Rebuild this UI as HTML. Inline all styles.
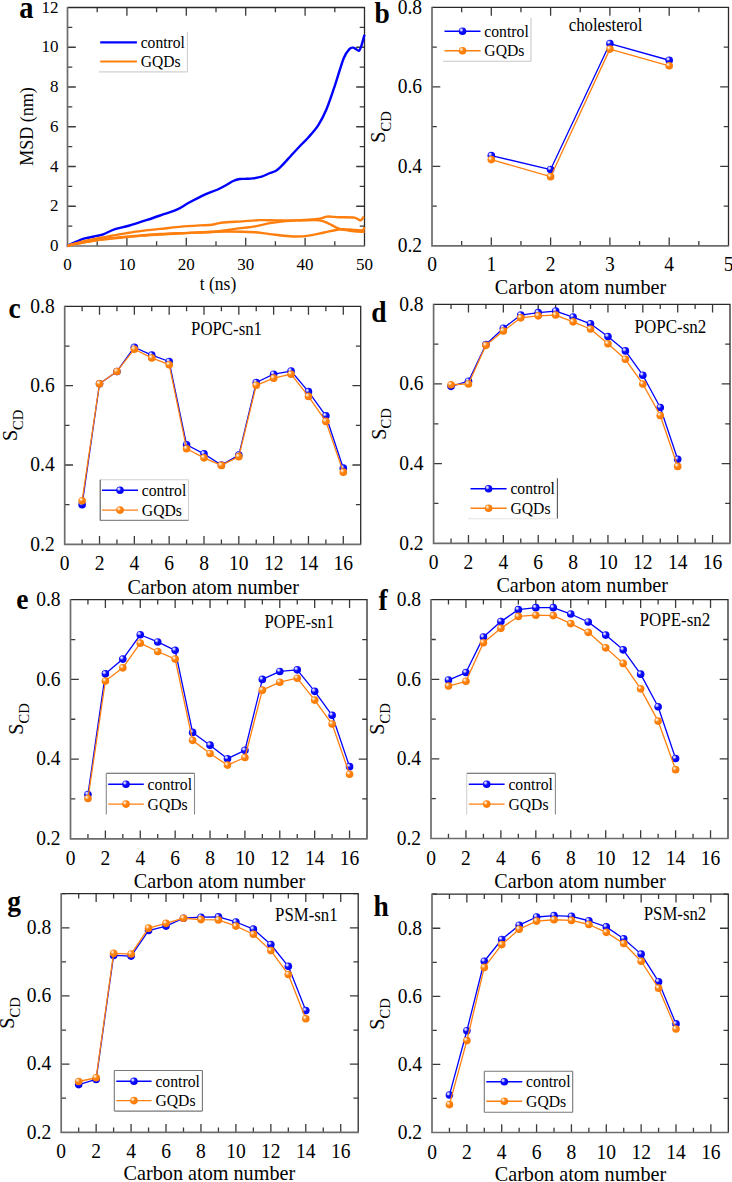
<!DOCTYPE html><html><head><meta charset="utf-8"><style>html,body{margin:0;padding:0;background:#fff;width:732px;height:1182px;overflow:hidden}svg{display:block}text{font-family:"Liberation Serif",serif;fill:#000}</style></head><body>
<svg width="732" height="1182" viewBox="0 0 732 1182">
<defs>
<radialGradient id="gb" cx="0.4" cy="0.38" r="0.62" fx="0.32" fy="0.3">
<stop offset="0" stop-color="#ffffff"/><stop offset="0.2" stop-color="#b8b8ff"/><stop offset="0.45" stop-color="#1010ff"/><stop offset="1" stop-color="#0000f0"/></radialGradient>
<radialGradient id="go" cx="0.4" cy="0.38" r="0.62" fx="0.32" fy="0.3">
<stop offset="0" stop-color="#ffffff"/><stop offset="0.2" stop-color="#ffd0a0"/><stop offset="0.45" stop-color="#ff8412"/><stop offset="1" stop-color="#f87800"/></radialGradient>
</defs>
<path d="M126.9 246v-8.3M126.9 7.5v8.3M186.3 246v-8.3M186.3 7.5v8.3M245.7 246v-8.3M245.7 7.5v8.3M305.1 246v-8.3M305.1 7.5v8.3M97.2 246v-4.8M97.2 7.5v4.8M156.6 246v-4.8M156.6 7.5v4.8M216 246v-4.8M216 7.5v4.8M275.4 246v-4.8M275.4 7.5v4.8M334.8 246v-4.8M334.8 7.5v4.8M67.5 206.25h8.3M364.5 206.25h-8.3M67.5 166.5h8.3M364.5 166.5h-8.3M67.5 126.75h8.3M364.5 126.75h-8.3M67.5 87h8.3M364.5 87h-8.3M67.5 47.25h8.3M364.5 47.25h-8.3M67.5 226.12h4.8M364.5 226.12h-4.8M67.5 186.38h4.8M364.5 186.38h-4.8M67.5 146.62h4.8M364.5 146.62h-4.8M67.5 106.88h4.8M364.5 106.88h-4.8M67.5 67.12h4.8M364.5 67.12h-4.8M67.5 27.38h4.8M364.5 27.38h-4.8" stroke="#3a3a3a" stroke-width="1.3" fill="none"/>
<path d="M67.5 7.5H364.5V246" stroke="#2a2a2a" stroke-width="1.3" fill="none"/>
<path d="M67.5 6.9V246H365.1" stroke="#6c6c6c" stroke-width="1.7" fill="none"/>
<text transform="translate(67.5,270) scale(1,1.0)" font-size="17" text-anchor="middle">0</text>
<text transform="translate(126.9,270) scale(1,1.0)" font-size="17" text-anchor="middle">10</text>
<text transform="translate(186.3,270) scale(1,1.0)" font-size="17" text-anchor="middle">20</text>
<text transform="translate(245.7,270) scale(1,1.0)" font-size="17" text-anchor="middle">30</text>
<text transform="translate(305.1,270) scale(1,1.0)" font-size="17" text-anchor="middle">40</text>
<text transform="translate(364.5,270) scale(1,1.0)" font-size="17" text-anchor="middle">50</text>
<text transform="translate(58.5,251.1) scale(1,1.0)" font-size="17" text-anchor="end">0</text>
<text transform="translate(58.5,211.35) scale(1,1.0)" font-size="17" text-anchor="end">2</text>
<text transform="translate(58.5,171.6) scale(1,1.0)" font-size="17" text-anchor="end">4</text>
<text transform="translate(58.5,131.85) scale(1,1.0)" font-size="17" text-anchor="end">6</text>
<text transform="translate(58.5,92.1) scale(1,1.0)" font-size="17" text-anchor="end">8</text>
<text transform="translate(58.5,52.35) scale(1,1.0)" font-size="17" text-anchor="end">10</text>
<text transform="translate(58.5,12.6) scale(1,1.0)" font-size="17" text-anchor="end">12</text>
<path d="M67.5 246C67.63 245.9 66.79 246.13 68.27 245.4C69.76 244.68 73.67 242.79 76.41 241.63C79.15 240.47 81.76 239.31 84.73 238.45C87.7 237.59 91.16 237.16 94.23 236.46C97.3 235.76 99.67 235.5 103.14 234.27C106.61 233.05 110.76 230.53 115.02 229.11C119.28 227.68 123.34 227.25 128.68 225.73C134.03 224.2 141.25 221.88 147.1 219.96C152.94 218.04 158.68 215.96 163.73 214.2C168.78 212.44 173.13 211.38 177.39 209.43C181.65 207.48 184.62 204.99 189.27 202.47C193.92 199.96 200.66 196.44 205.31 194.32C209.96 192.2 213.62 191.34 217.19 189.75C220.75 188.16 224.02 186.24 226.69 184.78C229.37 183.33 231.05 181.97 233.23 181.01C235.4 180.05 237.58 179.39 239.76 179.02C241.94 178.66 244.12 178.92 246.29 178.82C248.47 178.72 250.25 178.79 252.83 178.43C255.4 178.06 258.97 177.5 261.74 176.64C264.51 175.78 267.08 174.25 269.46 173.26C271.84 172.26 274.01 171.87 275.99 170.67C277.97 169.48 279.36 168.02 281.34 166.1C283.32 164.18 285.7 161.5 287.87 159.15C290.05 156.79 292.23 154.34 294.41 151.99C296.59 149.64 298.67 147.42 300.94 145.03C303.22 142.65 305.2 140.96 308.07 137.68C310.94 134.4 315.1 130.1 318.17 125.36C321.24 120.62 323.71 115.85 326.48 109.26C329.26 102.67 331.93 94.32 334.8 85.81C337.67 77.29 341.24 64.34 343.71 58.18C346.19 52.02 348.07 50.6 349.65 48.84C351.23 47.08 352.22 47.65 353.21 47.65C354.2 47.65 354.6 48.34 355.59 48.84C356.58 49.34 358.16 51.23 359.15 50.63C360.14 50.03 360.64 47.91 361.53 45.26C362.42 42.61 364 36.48 364.5 34.73" stroke="#0000ff" stroke-width="2.4" fill="none" stroke-linejoin="round"/>
<path d="M67.5 246C68.49 245.67 70.47 244.84 73.44 244.01C76.41 243.18 81.36 241.96 85.32 241.03C89.28 240.1 92.75 239.34 97.2 238.45C101.66 237.55 107.1 236.56 112.05 235.66C117 234.77 121.95 233.88 126.9 233.08C131.85 232.29 136.21 231.59 141.75 230.9C147.29 230.2 152.54 229.7 160.16 228.91C167.79 228.11 178.88 226.82 187.49 226.12C196.1 225.43 206.2 225.3 211.84 224.73C217.48 224.17 216.3 223.31 221.35 222.75C226.4 222.18 235.7 221.79 242.14 221.35C248.57 220.92 254.02 220.33 259.96 220.16C265.9 220 270.94 220.33 277.78 220.36C284.61 220.39 294.01 220.36 300.94 220.36C307.87 220.36 314.8 219.86 319.36 220.36C323.91 220.86 325 221.95 328.27 223.34C331.53 224.73 335.39 227.48 338.96 228.71C342.52 229.93 345.79 230.17 349.65 230.7C353.51 231.23 359.65 231.82 362.12 231.89C364.6 231.95 364.1 231.23 364.5 231.09" stroke="#ff7f0e" stroke-width="2.4" fill="none" stroke-linejoin="round"/>
<path d="M67.5 246C68.49 245.74 70.47 245.07 73.44 244.41C76.41 243.75 81.36 242.75 85.32 242.03C89.28 241.3 92.75 240.63 97.2 240.04C101.66 239.44 107.1 238.94 112.05 238.45C117 237.95 121.95 237.52 126.9 237.06C131.85 236.59 136.21 236.1 141.75 235.66C147.29 235.23 152.54 234.9 160.16 234.47C167.79 234.04 178.38 233.55 187.49 233.08C196.6 232.62 206.89 232.39 214.81 231.69C222.73 230.99 228.28 229.8 235.01 228.91C241.74 228.01 249.36 227.28 255.2 226.32C261.05 225.36 265 224 270.05 223.14C275.1 222.28 279.86 221.69 285.5 221.16C291.14 220.63 298.27 220.36 303.91 219.96C309.55 219.57 315.5 219.33 319.36 218.77C323.22 218.21 323.81 216.85 327.08 216.59C330.35 216.32 334.4 217.02 338.96 217.18C343.51 217.35 350.84 217.05 354.4 217.58C357.97 218.11 358.76 220.53 360.34 220.36C361.93 220.2 363.31 217.21 363.91 216.59" stroke="#ff7f0e" stroke-width="2.4" fill="none" stroke-linejoin="round"/>
<path d="M67.5 246C68.49 245.74 70.47 245.07 73.44 244.41C76.41 243.75 81.36 242.75 85.32 242.03C89.28 241.3 92.75 240.7 97.2 240.04C101.66 239.38 107.1 238.61 112.05 238.05C117 237.49 121.95 237.09 126.9 236.66C131.85 236.23 136.21 235.9 141.75 235.47C147.29 235.04 152.54 234.51 160.16 234.07C167.79 233.64 178.38 233.28 187.49 232.88C196.6 232.48 205.7 231.89 214.81 231.69C223.92 231.49 235.4 231.59 242.14 231.69C248.87 231.79 250.55 231.89 255.2 232.29C259.86 232.68 263.72 233.38 270.05 234.07C276.39 234.77 286.79 236.19 293.22 236.46C299.66 236.73 303.52 236.33 308.66 235.66C313.81 235 319.06 233.51 324.11 232.49C329.16 231.46 334.7 230 338.96 229.5C343.22 229.01 345.79 229.37 349.65 229.5C353.51 229.64 359.65 230.7 362.12 230.3C364.6 229.9 364.1 227.65 364.5 227.12" stroke="#ff7f0e" stroke-width="2.4" fill="none" stroke-linejoin="round"/>
<line x1="100.2" y1="42.3" x2="136.9" y2="42.3" stroke="#0000ff" stroke-width="2.2"/>
<text transform="translate(140.7,47.86) scale(1,1.08)" font-size="15.6">control</text>
<line x1="100.2" y1="61.5" x2="136.9" y2="61.5" stroke="#ff7f0e" stroke-width="2.2"/>
<text transform="translate(140.7,67.06) scale(1,1.08)" font-size="15.6">GQDs</text>
<path d="M187.4 31.8V71.9" stroke="#d0d0d0" stroke-width="1.1"/>
<path d="M99 71.9H187.4" stroke="#d0d0d0" stroke-width="1.1"/>
<text transform="translate(33.2,126.6) rotate(-90)" font-size="18" text-anchor="middle">MSD (nm)</text>
<text transform="translate(218,290.3) scale(1,1.08)" font-size="17.5" text-anchor="middle">t (ns)</text>
<text transform="translate(19.2,17.8) scale(1,1.08)" font-size="28.5" font-weight="bold">a</text>
<path d="M491.3 245.8v-8.3M491.3 7.4v8.3M550.6 245.8v-8.3M550.6 7.4v8.3M609.9 245.8v-8.3M609.9 7.4v8.3M669.2 245.8v-8.3M669.2 7.4v8.3M461.65 245.8v-4.8M461.65 7.4v4.8M520.95 245.8v-4.8M520.95 7.4v4.8M580.25 245.8v-4.8M580.25 7.4v4.8M639.55 245.8v-4.8M639.55 7.4v4.8M698.85 245.8v-4.8M698.85 7.4v4.8M432 166.33h8.3M728.5 166.33h-8.3M432 86.87h8.3M728.5 86.87h-8.3M432 206.07h4.8M728.5 206.07h-4.8M432 126.6h4.8M728.5 126.6h-4.8M432 47.13h4.8M728.5 47.13h-4.8" stroke="#3a3a3a" stroke-width="1.3" fill="none"/>
<path d="M432 7.4H728.5V245.8" stroke="#2a2a2a" stroke-width="1.3" fill="none"/>
<path d="M432 6.8V245.8H729.1" stroke="#6c6c6c" stroke-width="1.7" fill="none"/>
<text transform="translate(432,271.3) scale(1,1.08)" font-size="19.5" text-anchor="middle">0</text>
<text transform="translate(491.3,271.3) scale(1,1.08)" font-size="19.5" text-anchor="middle">1</text>
<text transform="translate(550.6,271.3) scale(1,1.08)" font-size="19.5" text-anchor="middle">2</text>
<text transform="translate(609.9,271.3) scale(1,1.08)" font-size="19.5" text-anchor="middle">3</text>
<text transform="translate(669.2,271.3) scale(1,1.08)" font-size="19.5" text-anchor="middle">4</text>
<text transform="translate(728.5,271.3) scale(1,1.08)" font-size="19.5" text-anchor="middle">5</text>
<text transform="translate(422,252.12) scale(1,1.08)" font-size="19.5" text-anchor="end">0.2</text>
<text transform="translate(422,172.65) scale(1,1.08)" font-size="19.5" text-anchor="end">0.4</text>
<text transform="translate(422,93.18) scale(1,1.08)" font-size="19.5" text-anchor="end">0.6</text>
<text transform="translate(422,13.72) scale(1,1.08)" font-size="19.5" text-anchor="end">0.8</text>
<polyline points="491.3,155.61 550.6,169.51 609.9,43.56 669.2,60.25" stroke="#0000ff" stroke-width="1.3" fill="none" stroke-linejoin="round"/>
<circle cx="491.3" cy="155.61" r="3.8" fill="url(#gb)"/>
<circle cx="550.6" cy="169.51" r="3.8" fill="url(#gb)"/>
<circle cx="609.9" cy="43.56" r="3.8" fill="url(#gb)"/>
<circle cx="669.2" cy="60.25" r="3.8" fill="url(#gb)"/>
<polyline points="491.3,159.58 550.6,176.66 609.9,49.12 669.2,65.81" stroke="#ff7f0e" stroke-width="1.3" fill="none" stroke-linejoin="round"/>
<circle cx="491.3" cy="159.58" r="3.8" fill="url(#go)"/>
<circle cx="550.6" cy="176.66" r="3.8" fill="url(#go)"/>
<circle cx="609.9" cy="49.12" r="3.8" fill="url(#go)"/>
<circle cx="669.2" cy="65.81" r="3.8" fill="url(#go)"/>
<line x1="444.5" y1="31.2" x2="480.5" y2="31.2" stroke="#0000ff" stroke-width="1.4"/>
<circle cx="462.5" cy="31.2" r="3.8" fill="url(#gb)"/>
<text transform="translate(484.3,36.8) scale(1,1.08)" font-size="15.7">control</text>
<line x1="444.5" y1="50.7" x2="480.5" y2="50.7" stroke="#ff7f0e" stroke-width="1.4"/>
<circle cx="462.5" cy="50.7" r="3.8" fill="url(#go)"/>
<text transform="translate(484.3,56.3) scale(1,1.08)" font-size="15.7">GQDs</text>
<path d="M531 18V61.2" stroke="#c8c8c8" stroke-width="1.1"/>
<path d="M443 61.2H531" stroke="#c8c8c8" stroke-width="1.1"/>
<text transform="translate(605.5,30.5) scale(1,1.08)" font-size="16.8" text-anchor="middle">cholesterol</text>
<text transform="translate(385,127) rotate(-90)" font-size="20" text-anchor="middle">S<tspan font-size="14.5" dy="5.6">CD</tspan></text>
<text transform="translate(580.5,294.3) scale(1,1.08)" font-size="20.2" text-anchor="middle">Carbon atom number</text>
<text transform="translate(374.5,22.8) scale(1,1.08)" font-size="27.5" font-weight="bold">b</text>
<path d="M99.52 544.3v-8.3M99.52 306.4v8.3M134.35 544.3v-8.3M134.35 306.4v8.3M169.17 544.3v-8.3M169.17 306.4v8.3M203.99 544.3v-8.3M203.99 306.4v8.3M238.82 544.3v-8.3M238.82 306.4v8.3M273.64 544.3v-8.3M273.64 306.4v8.3M308.46 544.3v-8.3M308.46 306.4v8.3M343.29 544.3v-8.3M343.29 306.4v8.3M82.11 544.3v-4.8M82.11 306.4v4.8M116.94 544.3v-4.8M116.94 306.4v4.8M151.76 544.3v-4.8M151.76 306.4v4.8M186.58 544.3v-4.8M186.58 306.4v4.8M221.41 544.3v-4.8M221.41 306.4v4.8M256.23 544.3v-4.8M256.23 306.4v4.8M291.05 544.3v-4.8M291.05 306.4v4.8M325.88 544.3v-4.8M325.88 306.4v4.8M64.7 465h8.3M360.7 465h-8.3M64.7 385.7h8.3M360.7 385.7h-8.3M64.7 504.65h4.8M360.7 504.65h-4.8M64.7 425.35h4.8M360.7 425.35h-4.8M64.7 346.05h4.8M360.7 346.05h-4.8" stroke="#3a3a3a" stroke-width="1.3" fill="none"/>
<path d="M64.7 306.4H360.7V544.3" stroke="#2a2a2a" stroke-width="1.3" fill="none"/>
<path d="M64.7 305.8V544.3H361.3" stroke="#6c6c6c" stroke-width="1.7" fill="none"/>
<text transform="translate(64.7,570.3) scale(1,1.08)" font-size="19.5" text-anchor="middle">0</text>
<text transform="translate(99.52,570.3) scale(1,1.08)" font-size="19.5" text-anchor="middle">2</text>
<text transform="translate(134.35,570.3) scale(1,1.08)" font-size="19.5" text-anchor="middle">4</text>
<text transform="translate(169.17,570.3) scale(1,1.08)" font-size="19.5" text-anchor="middle">6</text>
<text transform="translate(203.99,570.3) scale(1,1.08)" font-size="19.5" text-anchor="middle">8</text>
<text transform="translate(238.82,570.3) scale(1,1.08)" font-size="19.5" text-anchor="middle">10</text>
<text transform="translate(273.64,570.3) scale(1,1.08)" font-size="19.5" text-anchor="middle">12</text>
<text transform="translate(308.46,570.3) scale(1,1.08)" font-size="19.5" text-anchor="middle">14</text>
<text transform="translate(343.29,570.3) scale(1,1.08)" font-size="19.5" text-anchor="middle">16</text>
<text transform="translate(54.7,550.62) scale(1,1.08)" font-size="19.5" text-anchor="end">0.2</text>
<text transform="translate(54.7,471.32) scale(1,1.08)" font-size="19.5" text-anchor="end">0.4</text>
<text transform="translate(54.7,392.02) scale(1,1.08)" font-size="19.5" text-anchor="end">0.6</text>
<text transform="translate(54.7,312.72) scale(1,1.08)" font-size="19.5" text-anchor="end">0.8</text>
<polyline points="82.11,504.65 99.52,383.72 116.94,371.43 134.35,347.24 151.76,355.17 169.17,361.51 186.58,444.78 203.99,453.9 221.41,465 238.82,455.09 256.23,382.53 273.64,374.2 291.05,371.03 308.46,391.65 325.88,415.83 343.29,468.17" stroke="#0000ff" stroke-width="1.3" fill="none" stroke-linejoin="round"/>
<circle cx="82.11" cy="504.65" r="3.8" fill="url(#gb)"/>
<circle cx="99.52" cy="383.72" r="3.8" fill="url(#gb)"/>
<circle cx="116.94" cy="371.43" r="3.8" fill="url(#gb)"/>
<circle cx="134.35" cy="347.24" r="3.8" fill="url(#gb)"/>
<circle cx="151.76" cy="355.17" r="3.8" fill="url(#gb)"/>
<circle cx="169.17" cy="361.51" r="3.8" fill="url(#gb)"/>
<circle cx="186.58" cy="444.78" r="3.8" fill="url(#gb)"/>
<circle cx="203.99" cy="453.9" r="3.8" fill="url(#gb)"/>
<circle cx="221.41" cy="465" r="3.8" fill="url(#gb)"/>
<circle cx="238.82" cy="455.09" r="3.8" fill="url(#gb)"/>
<circle cx="256.23" cy="382.53" r="3.8" fill="url(#gb)"/>
<circle cx="273.64" cy="374.2" r="3.8" fill="url(#gb)"/>
<circle cx="291.05" cy="371.03" r="3.8" fill="url(#gb)"/>
<circle cx="308.46" cy="391.65" r="3.8" fill="url(#gb)"/>
<circle cx="325.88" cy="415.83" r="3.8" fill="url(#gb)"/>
<circle cx="343.29" cy="468.17" r="3.8" fill="url(#gb)"/>
<polyline points="82.11,500.68 99.52,383.72 116.94,371.43 134.35,349.22 151.76,357.94 169.17,364.69 186.58,448.74 203.99,457.86 221.41,465.4 238.82,456.67 256.23,385.3 273.64,378.17 291.05,374.2 308.46,396.41 325.88,421.38 343.29,472.14" stroke="#ff7f0e" stroke-width="1.3" fill="none" stroke-linejoin="round"/>
<circle cx="82.11" cy="500.68" r="3.8" fill="url(#go)"/>
<circle cx="99.52" cy="383.72" r="3.8" fill="url(#go)"/>
<circle cx="116.94" cy="371.43" r="3.8" fill="url(#go)"/>
<circle cx="134.35" cy="349.22" r="3.8" fill="url(#go)"/>
<circle cx="151.76" cy="357.94" r="3.8" fill="url(#go)"/>
<circle cx="169.17" cy="364.69" r="3.8" fill="url(#go)"/>
<circle cx="186.58" cy="448.74" r="3.8" fill="url(#go)"/>
<circle cx="203.99" cy="457.86" r="3.8" fill="url(#go)"/>
<circle cx="221.41" cy="465.4" r="3.8" fill="url(#go)"/>
<circle cx="238.82" cy="456.67" r="3.8" fill="url(#go)"/>
<circle cx="256.23" cy="385.3" r="3.8" fill="url(#go)"/>
<circle cx="273.64" cy="378.17" r="3.8" fill="url(#go)"/>
<circle cx="291.05" cy="374.2" r="3.8" fill="url(#go)"/>
<circle cx="308.46" cy="396.41" r="3.8" fill="url(#go)"/>
<circle cx="325.88" cy="421.38" r="3.8" fill="url(#go)"/>
<circle cx="343.29" cy="472.14" r="3.8" fill="url(#go)"/>
<line x1="102" y1="490.3" x2="138" y2="490.3" stroke="#0000ff" stroke-width="1.4"/>
<circle cx="120" cy="490.3" r="3.8" fill="url(#gb)"/>
<text transform="translate(141.8,495.9) scale(1,1.08)" font-size="15.7">control</text>
<line x1="102" y1="510.1" x2="138" y2="510.1" stroke="#ff7f0e" stroke-width="1.4"/>
<circle cx="120" cy="510.1" r="3.8" fill="url(#go)"/>
<text transform="translate(141.8,515.7) scale(1,1.08)" font-size="15.7">GQDs</text>
<path d="M100.2 479.8H188.5" stroke="#d0d0d0" stroke-width="1.1"/>
<path d="M188.5 479.8V520.4" stroke="#d0d0d0" stroke-width="1.1"/>
<path d="M100.2 520.4H188.5" stroke="#8a8a8a" stroke-width="1.1"/>
<path d="M100.2 479.8V520.4" stroke="#555" stroke-width="1.1"/>
<text transform="translate(226.5,335) scale(1,1.08)" font-size="16.8" text-anchor="middle">POPC-sn1</text>
<text transform="translate(17.2,425.4) rotate(-90)" font-size="20" text-anchor="middle">S<tspan font-size="14.5" dy="5.6">CD</tspan></text>
<text transform="translate(213.2,594) scale(1,1.08)" font-size="20.2" text-anchor="middle">Carbon atom number</text>
<text transform="translate(8.6,318.2) scale(1,1.08)" font-size="27.5" font-weight="bold">c</text>
<path d="M468.47 543.3v-8.3M468.47 304.3v8.3M503.34 543.3v-8.3M503.34 304.3v8.3M538.21 543.3v-8.3M538.21 304.3v8.3M573.08 543.3v-8.3M573.08 304.3v8.3M607.95 543.3v-8.3M607.95 304.3v8.3M642.82 543.3v-8.3M642.82 304.3v8.3M677.69 543.3v-8.3M677.69 304.3v8.3M712.56 543.3v-8.3M712.56 304.3v8.3M451.04 543.3v-4.8M451.04 304.3v4.8M485.91 543.3v-4.8M485.91 304.3v4.8M520.78 543.3v-4.8M520.78 304.3v4.8M555.65 543.3v-4.8M555.65 304.3v4.8M590.52 543.3v-4.8M590.52 304.3v4.8M625.39 543.3v-4.8M625.39 304.3v4.8M660.26 543.3v-4.8M660.26 304.3v4.8M695.13 543.3v-4.8M695.13 304.3v4.8M433.6 463.63h8.3M730 463.63h-8.3M433.6 383.97h8.3M730 383.97h-8.3M433.6 503.47h4.8M730 503.47h-4.8M433.6 423.8h4.8M730 423.8h-4.8M433.6 344.13h4.8M730 344.13h-4.8" stroke="#3a3a3a" stroke-width="1.3" fill="none"/>
<path d="M433.6 304.3H730V543.3" stroke="#2a2a2a" stroke-width="1.3" fill="none"/>
<path d="M433.6 303.7V543.3H730.6" stroke="#6c6c6c" stroke-width="1.7" fill="none"/>
<text transform="translate(433.6,569.3) scale(1,1.08)" font-size="19.5" text-anchor="middle">0</text>
<text transform="translate(468.47,569.3) scale(1,1.08)" font-size="19.5" text-anchor="middle">2</text>
<text transform="translate(503.34,569.3) scale(1,1.08)" font-size="19.5" text-anchor="middle">4</text>
<text transform="translate(538.21,569.3) scale(1,1.08)" font-size="19.5" text-anchor="middle">6</text>
<text transform="translate(573.08,569.3) scale(1,1.08)" font-size="19.5" text-anchor="middle">8</text>
<text transform="translate(607.95,569.3) scale(1,1.08)" font-size="19.5" text-anchor="middle">10</text>
<text transform="translate(642.82,569.3) scale(1,1.08)" font-size="19.5" text-anchor="middle">12</text>
<text transform="translate(677.69,569.3) scale(1,1.08)" font-size="19.5" text-anchor="middle">14</text>
<text transform="translate(712.56,569.3) scale(1,1.08)" font-size="19.5" text-anchor="middle">16</text>
<text transform="translate(423.6,549.62) scale(1,1.08)" font-size="19.5" text-anchor="end">0.2</text>
<text transform="translate(423.6,469.95) scale(1,1.08)" font-size="19.5" text-anchor="end">0.4</text>
<text transform="translate(423.6,390.28) scale(1,1.08)" font-size="19.5" text-anchor="end">0.6</text>
<text transform="translate(423.6,310.62) scale(1,1.08)" font-size="19.5" text-anchor="end">0.8</text>
<polyline points="451.04,386.36 468.47,381.18 485.91,344.53 503.34,328.2 520.78,315.06 538.21,312.67 555.65,311.07 573.08,317.05 590.52,323.82 607.95,336.57 625.39,350.9 642.82,375.2 660.26,407.47 677.69,459.25" stroke="#0000ff" stroke-width="1.3" fill="none" stroke-linejoin="round"/>
<circle cx="451.04" cy="386.36" r="3.8" fill="url(#gb)"/>
<circle cx="468.47" cy="381.18" r="3.8" fill="url(#gb)"/>
<circle cx="485.91" cy="344.53" r="3.8" fill="url(#gb)"/>
<circle cx="503.34" cy="328.2" r="3.8" fill="url(#gb)"/>
<circle cx="520.78" cy="315.06" r="3.8" fill="url(#gb)"/>
<circle cx="538.21" cy="312.67" r="3.8" fill="url(#gb)"/>
<circle cx="555.65" cy="311.07" r="3.8" fill="url(#gb)"/>
<circle cx="573.08" cy="317.05" r="3.8" fill="url(#gb)"/>
<circle cx="590.52" cy="323.82" r="3.8" fill="url(#gb)"/>
<circle cx="607.95" cy="336.57" r="3.8" fill="url(#gb)"/>
<circle cx="625.39" cy="350.9" r="3.8" fill="url(#gb)"/>
<circle cx="642.82" cy="375.2" r="3.8" fill="url(#gb)"/>
<circle cx="660.26" cy="407.47" r="3.8" fill="url(#gb)"/>
<circle cx="677.69" cy="459.25" r="3.8" fill="url(#gb)"/>
<polyline points="451.04,384.76 468.47,383.97 485.91,345.33 503.34,330.99 520.78,317.84 538.21,315.85 555.65,315.06 573.08,321.83 590.52,329 607.95,343.74 625.39,359.27 642.82,383.97 660.26,415.44 677.69,466.42" stroke="#ff7f0e" stroke-width="1.3" fill="none" stroke-linejoin="round"/>
<circle cx="451.04" cy="384.76" r="3.8" fill="url(#go)"/>
<circle cx="468.47" cy="383.97" r="3.8" fill="url(#go)"/>
<circle cx="485.91" cy="345.33" r="3.8" fill="url(#go)"/>
<circle cx="503.34" cy="330.99" r="3.8" fill="url(#go)"/>
<circle cx="520.78" cy="317.84" r="3.8" fill="url(#go)"/>
<circle cx="538.21" cy="315.85" r="3.8" fill="url(#go)"/>
<circle cx="555.65" cy="315.06" r="3.8" fill="url(#go)"/>
<circle cx="573.08" cy="321.83" r="3.8" fill="url(#go)"/>
<circle cx="590.52" cy="329" r="3.8" fill="url(#go)"/>
<circle cx="607.95" cy="343.74" r="3.8" fill="url(#go)"/>
<circle cx="625.39" cy="359.27" r="3.8" fill="url(#go)"/>
<circle cx="642.82" cy="383.97" r="3.8" fill="url(#go)"/>
<circle cx="660.26" cy="415.44" r="3.8" fill="url(#go)"/>
<circle cx="677.69" cy="466.42" r="3.8" fill="url(#go)"/>
<line x1="470.5" y1="488.8" x2="506.6" y2="488.8" stroke="#0000ff" stroke-width="1.4"/>
<circle cx="488.55" cy="488.8" r="3.8" fill="url(#gb)"/>
<text transform="translate(510.4,494.4) scale(1,1.08)" font-size="15.7">control</text>
<line x1="470.5" y1="508.3" x2="506.6" y2="508.3" stroke="#ff7f0e" stroke-width="1.4"/>
<circle cx="488.55" cy="508.3" r="3.8" fill="url(#go)"/>
<text transform="translate(510.4,513.9) scale(1,1.08)" font-size="15.7">GQDs</text>
<path d="M557.4 478.3V518.8" stroke="#555" stroke-width="1.1"/>
<path d="M468 518.8H557.4" stroke="#e4e4e4" stroke-width="1.1"/>
<text transform="translate(670.4,332.8) scale(1,1.08)" font-size="17" text-anchor="middle">POPC-sn2</text>
<text transform="translate(385.7,424) rotate(-90)" font-size="20" text-anchor="middle">S<tspan font-size="14.5" dy="5.6">CD</tspan></text>
<text transform="translate(582.2,592) scale(1,1.08)" font-size="20.2" text-anchor="middle">Carbon atom number</text>
<text transform="translate(371.3,322) scale(1,1.08)" font-size="27.5" font-weight="bold">d</text>
<path d="M105.38 838.8v-8.3M105.38 599.7v8.3M140.26 838.8v-8.3M140.26 599.7v8.3M175.15 838.8v-8.3M175.15 599.7v8.3M210.03 838.8v-8.3M210.03 599.7v8.3M244.91 838.8v-8.3M244.91 599.7v8.3M279.79 838.8v-8.3M279.79 599.7v8.3M314.68 838.8v-8.3M314.68 599.7v8.3M349.56 838.8v-8.3M349.56 599.7v8.3M87.94 838.8v-4.8M87.94 599.7v4.8M122.82 838.8v-4.8M122.82 599.7v4.8M157.71 838.8v-4.8M157.71 599.7v4.8M192.59 838.8v-4.8M192.59 599.7v4.8M227.47 838.8v-4.8M227.47 599.7v4.8M262.35 838.8v-4.8M262.35 599.7v4.8M297.24 838.8v-4.8M297.24 599.7v4.8M332.12 838.8v-4.8M332.12 599.7v4.8M70.5 759.1h8.3M367 759.1h-8.3M70.5 679.4h8.3M367 679.4h-8.3M70.5 798.95h4.8M367 798.95h-4.8M70.5 719.25h4.8M367 719.25h-4.8M70.5 639.55h4.8M367 639.55h-4.8" stroke="#3a3a3a" stroke-width="1.3" fill="none"/>
<path d="M70.5 599.7H367V838.8" stroke="#2a2a2a" stroke-width="1.3" fill="none"/>
<path d="M70.5 599.1V838.8H367.6" stroke="#6c6c6c" stroke-width="1.7" fill="none"/>
<text transform="translate(70.5,864.8) scale(1,1.08)" font-size="19.5" text-anchor="middle">0</text>
<text transform="translate(105.38,864.8) scale(1,1.08)" font-size="19.5" text-anchor="middle">2</text>
<text transform="translate(140.26,864.8) scale(1,1.08)" font-size="19.5" text-anchor="middle">4</text>
<text transform="translate(175.15,864.8) scale(1,1.08)" font-size="19.5" text-anchor="middle">6</text>
<text transform="translate(210.03,864.8) scale(1,1.08)" font-size="19.5" text-anchor="middle">8</text>
<text transform="translate(244.91,864.8) scale(1,1.08)" font-size="19.5" text-anchor="middle">10</text>
<text transform="translate(279.79,864.8) scale(1,1.08)" font-size="19.5" text-anchor="middle">12</text>
<text transform="translate(314.68,864.8) scale(1,1.08)" font-size="19.5" text-anchor="middle">14</text>
<text transform="translate(349.56,864.8) scale(1,1.08)" font-size="19.5" text-anchor="middle">16</text>
<text transform="translate(60.5,845.12) scale(1,1.08)" font-size="19.5" text-anchor="end">0.2</text>
<text transform="translate(60.5,765.42) scale(1,1.08)" font-size="19.5" text-anchor="end">0.4</text>
<text transform="translate(60.5,685.72) scale(1,1.08)" font-size="19.5" text-anchor="end">0.6</text>
<text transform="translate(60.5,606.02) scale(1,1.08)" font-size="19.5" text-anchor="end">0.8</text>
<polyline points="87.94,794.57 105.38,673.82 122.82,659.08 140.26,634.77 157.71,641.94 175.15,650.31 192.59,732.4 210.03,745.15 227.47,758.7 244.91,750.33 262.35,679.4 279.79,671.43 297.24,669.84 314.68,691.36 332.12,715.26 349.56,766.67" stroke="#0000ff" stroke-width="1.3" fill="none" stroke-linejoin="round"/>
<circle cx="87.94" cy="794.57" r="3.8" fill="url(#gb)"/>
<circle cx="105.38" cy="673.82" r="3.8" fill="url(#gb)"/>
<circle cx="122.82" cy="659.08" r="3.8" fill="url(#gb)"/>
<circle cx="140.26" cy="634.77" r="3.8" fill="url(#gb)"/>
<circle cx="157.71" cy="641.94" r="3.8" fill="url(#gb)"/>
<circle cx="175.15" cy="650.31" r="3.8" fill="url(#gb)"/>
<circle cx="192.59" cy="732.4" r="3.8" fill="url(#gb)"/>
<circle cx="210.03" cy="745.15" r="3.8" fill="url(#gb)"/>
<circle cx="227.47" cy="758.7" r="3.8" fill="url(#gb)"/>
<circle cx="244.91" cy="750.33" r="3.8" fill="url(#gb)"/>
<circle cx="262.35" cy="679.4" r="3.8" fill="url(#gb)"/>
<circle cx="279.79" cy="671.43" r="3.8" fill="url(#gb)"/>
<circle cx="297.24" cy="669.84" r="3.8" fill="url(#gb)"/>
<circle cx="314.68" cy="691.36" r="3.8" fill="url(#gb)"/>
<circle cx="332.12" cy="715.26" r="3.8" fill="url(#gb)"/>
<circle cx="349.56" cy="766.67" r="3.8" fill="url(#gb)"/>
<polyline points="87.94,798.55 105.38,680.99 122.82,667.84 140.26,643.14 157.71,651.51 175.15,659.08 192.59,740.37 210.03,753.52 227.47,765.08 244.91,757.51 262.35,690.16 279.79,682.19 297.24,678.2 314.68,700.12 332.12,724.03 349.56,774.24" stroke="#ff7f0e" stroke-width="1.3" fill="none" stroke-linejoin="round"/>
<circle cx="87.94" cy="798.55" r="3.8" fill="url(#go)"/>
<circle cx="105.38" cy="680.99" r="3.8" fill="url(#go)"/>
<circle cx="122.82" cy="667.84" r="3.8" fill="url(#go)"/>
<circle cx="140.26" cy="643.14" r="3.8" fill="url(#go)"/>
<circle cx="157.71" cy="651.51" r="3.8" fill="url(#go)"/>
<circle cx="175.15" cy="659.08" r="3.8" fill="url(#go)"/>
<circle cx="192.59" cy="740.37" r="3.8" fill="url(#go)"/>
<circle cx="210.03" cy="753.52" r="3.8" fill="url(#go)"/>
<circle cx="227.47" cy="765.08" r="3.8" fill="url(#go)"/>
<circle cx="244.91" cy="757.51" r="3.8" fill="url(#go)"/>
<circle cx="262.35" cy="690.16" r="3.8" fill="url(#go)"/>
<circle cx="279.79" cy="682.19" r="3.8" fill="url(#go)"/>
<circle cx="297.24" cy="678.2" r="3.8" fill="url(#go)"/>
<circle cx="314.68" cy="700.12" r="3.8" fill="url(#go)"/>
<circle cx="332.12" cy="724.03" r="3.8" fill="url(#go)"/>
<circle cx="349.56" cy="774.24" r="3.8" fill="url(#go)"/>
<line x1="108.2" y1="784.2" x2="143.8" y2="784.2" stroke="#0000ff" stroke-width="1.4"/>
<circle cx="126" cy="784.2" r="3.8" fill="url(#gb)"/>
<text transform="translate(147.6,789.8) scale(1,1.08)" font-size="15.7">control</text>
<line x1="108.2" y1="804.1" x2="143.8" y2="804.1" stroke="#ff7f0e" stroke-width="1.4"/>
<circle cx="126" cy="804.1" r="3.8" fill="url(#go)"/>
<text transform="translate(147.6,809.7) scale(1,1.08)" font-size="15.7">GQDs</text>
<path d="M106.3 773.3H194.5" stroke="#555" stroke-width="1.1"/>
<path d="M194.5 773.3V814.6" stroke="#8a8a8a" stroke-width="1.1"/>
<path d="M106.3 773.3V814.6" stroke="#8a8a8a" stroke-width="1.1"/>
<text transform="translate(299.4,628.3) scale(1,1.08)" font-size="16.8" text-anchor="middle">POPE-sn1</text>
<text transform="translate(23.2,719) rotate(-90)" font-size="20" text-anchor="middle">S<tspan font-size="14.5" dy="5.6">CD</tspan></text>
<text transform="translate(219.5,887.8) scale(1,1.08)" font-size="20.2" text-anchor="middle">Carbon atom number</text>
<text transform="translate(16.2,608.6) scale(1,1.08)" font-size="27.5" font-weight="bold">e</text>
<path d="M465.94 838.5v-8.3M465.94 599.7v8.3M500.88 838.5v-8.3M500.88 599.7v8.3M535.82 838.5v-8.3M535.82 599.7v8.3M570.76 838.5v-8.3M570.76 599.7v8.3M605.71 838.5v-8.3M605.71 599.7v8.3M640.65 838.5v-8.3M640.65 599.7v8.3M675.59 838.5v-8.3M675.59 599.7v8.3M710.53 838.5v-8.3M710.53 599.7v8.3M448.47 838.5v-4.8M448.47 599.7v4.8M483.41 838.5v-4.8M483.41 599.7v4.8M518.35 838.5v-4.8M518.35 599.7v4.8M553.29 838.5v-4.8M553.29 599.7v4.8M588.24 838.5v-4.8M588.24 599.7v4.8M623.18 838.5v-4.8M623.18 599.7v4.8M658.12 838.5v-4.8M658.12 599.7v4.8M693.06 838.5v-4.8M693.06 599.7v4.8M431 758.9h8.3M728 758.9h-8.3M431 679.3h8.3M728 679.3h-8.3M431 798.7h4.8M728 798.7h-4.8M431 719.1h4.8M728 719.1h-4.8M431 639.5h4.8M728 639.5h-4.8" stroke="#3a3a3a" stroke-width="1.3" fill="none"/>
<path d="M431 599.7H728V838.5" stroke="#2a2a2a" stroke-width="1.3" fill="none"/>
<path d="M431 599.1V838.5H728.6" stroke="#6c6c6c" stroke-width="1.7" fill="none"/>
<text transform="translate(431,864.5) scale(1,1.08)" font-size="19.5" text-anchor="middle">0</text>
<text transform="translate(465.94,864.5) scale(1,1.08)" font-size="19.5" text-anchor="middle">2</text>
<text transform="translate(500.88,864.5) scale(1,1.08)" font-size="19.5" text-anchor="middle">4</text>
<text transform="translate(535.82,864.5) scale(1,1.08)" font-size="19.5" text-anchor="middle">6</text>
<text transform="translate(570.76,864.5) scale(1,1.08)" font-size="19.5" text-anchor="middle">8</text>
<text transform="translate(605.71,864.5) scale(1,1.08)" font-size="19.5" text-anchor="middle">10</text>
<text transform="translate(640.65,864.5) scale(1,1.08)" font-size="19.5" text-anchor="middle">12</text>
<text transform="translate(675.59,864.5) scale(1,1.08)" font-size="19.5" text-anchor="middle">14</text>
<text transform="translate(710.53,864.5) scale(1,1.08)" font-size="19.5" text-anchor="middle">16</text>
<text transform="translate(421,844.82) scale(1,1.08)" font-size="19.5" text-anchor="end">0.2</text>
<text transform="translate(421,765.22) scale(1,1.08)" font-size="19.5" text-anchor="end">0.4</text>
<text transform="translate(421,685.62) scale(1,1.08)" font-size="19.5" text-anchor="end">0.6</text>
<text transform="translate(421,606.02) scale(1,1.08)" font-size="19.5" text-anchor="end">0.8</text>
<polyline points="448.47,680.1 465.94,672.53 483.41,637.11 500.88,621.59 518.35,609.65 535.82,607.66 553.29,607.66 570.76,614.03 588.24,621.99 605.71,635.12 623.18,649.85 640.65,674.13 658.12,706.76 675.59,758.5" stroke="#0000ff" stroke-width="1.3" fill="none" stroke-linejoin="round"/>
<circle cx="448.47" cy="680.1" r="3.8" fill="url(#gb)"/>
<circle cx="465.94" cy="672.53" r="3.8" fill="url(#gb)"/>
<circle cx="483.41" cy="637.11" r="3.8" fill="url(#gb)"/>
<circle cx="500.88" cy="621.59" r="3.8" fill="url(#gb)"/>
<circle cx="518.35" cy="609.65" r="3.8" fill="url(#gb)"/>
<circle cx="535.82" cy="607.66" r="3.8" fill="url(#gb)"/>
<circle cx="553.29" cy="607.66" r="3.8" fill="url(#gb)"/>
<circle cx="570.76" cy="614.03" r="3.8" fill="url(#gb)"/>
<circle cx="588.24" cy="621.99" r="3.8" fill="url(#gb)"/>
<circle cx="605.71" cy="635.12" r="3.8" fill="url(#gb)"/>
<circle cx="623.18" cy="649.85" r="3.8" fill="url(#gb)"/>
<circle cx="640.65" cy="674.13" r="3.8" fill="url(#gb)"/>
<circle cx="658.12" cy="706.76" r="3.8" fill="url(#gb)"/>
<circle cx="675.59" cy="758.5" r="3.8" fill="url(#gb)"/>
<polyline points="448.47,686.07 465.94,681.29 483.41,642.68 500.88,628.36 518.35,616.42 535.82,615.22 553.29,615.62 570.76,623.58 588.24,632.34 605.71,647.86 623.18,663.38 640.65,688.85 658.12,721.09 675.59,769.65" stroke="#ff7f0e" stroke-width="1.3" fill="none" stroke-linejoin="round"/>
<circle cx="448.47" cy="686.07" r="3.8" fill="url(#go)"/>
<circle cx="465.94" cy="681.29" r="3.8" fill="url(#go)"/>
<circle cx="483.41" cy="642.68" r="3.8" fill="url(#go)"/>
<circle cx="500.88" cy="628.36" r="3.8" fill="url(#go)"/>
<circle cx="518.35" cy="616.42" r="3.8" fill="url(#go)"/>
<circle cx="535.82" cy="615.22" r="3.8" fill="url(#go)"/>
<circle cx="553.29" cy="615.62" r="3.8" fill="url(#go)"/>
<circle cx="570.76" cy="623.58" r="3.8" fill="url(#go)"/>
<circle cx="588.24" cy="632.34" r="3.8" fill="url(#go)"/>
<circle cx="605.71" cy="647.86" r="3.8" fill="url(#go)"/>
<circle cx="623.18" cy="663.38" r="3.8" fill="url(#go)"/>
<circle cx="640.65" cy="688.85" r="3.8" fill="url(#go)"/>
<circle cx="658.12" cy="721.09" r="3.8" fill="url(#go)"/>
<circle cx="675.59" cy="769.65" r="3.8" fill="url(#go)"/>
<line x1="468.8" y1="784.2" x2="504.6" y2="784.2" stroke="#0000ff" stroke-width="1.4"/>
<circle cx="486.7" cy="784.2" r="3.8" fill="url(#gb)"/>
<text transform="translate(508.4,789.8) scale(1,1.08)" font-size="15.7">control</text>
<line x1="468.8" y1="804.1" x2="504.6" y2="804.1" stroke="#ff7f0e" stroke-width="1.4"/>
<circle cx="486.7" cy="804.1" r="3.8" fill="url(#go)"/>
<text transform="translate(508.4,809.7) scale(1,1.08)" font-size="15.7">GQDs</text>
<path d="M466.7 773.3H555.4" stroke="#555" stroke-width="1.1"/>
<path d="M555.4 773.3V814.6" stroke="#8a8a8a" stroke-width="1.1"/>
<path d="M466.7 773.3V814.6" stroke="#d0d0d0" stroke-width="1.1"/>
<text transform="translate(674.9,626) scale(1,1.08)" font-size="17" text-anchor="middle">POPE-sn2</text>
<text transform="translate(384.1,719) rotate(-90)" font-size="20" text-anchor="middle">S<tspan font-size="14.5" dy="5.6">CD</tspan></text>
<text transform="translate(580,887.8) scale(1,1.08)" font-size="20.2" text-anchor="middle">Carbon atom number</text>
<text transform="translate(378.5,610.2) scale(1,1.08)" font-size="27.5" font-weight="bold">f</text>
<path d="M96.14 1132.3v-8.3M96.14 893.7v8.3M131.08 1132.3v-8.3M131.08 893.7v8.3M166.02 1132.3v-8.3M166.02 893.7v8.3M200.96 1132.3v-8.3M200.96 893.7v8.3M235.91 1132.3v-8.3M235.91 893.7v8.3M270.85 1132.3v-8.3M270.85 893.7v8.3M305.79 1132.3v-8.3M305.79 893.7v8.3M340.73 1132.3v-8.3M340.73 893.7v8.3M78.67 1132.3v-4.8M78.67 893.7v4.8M113.61 1132.3v-4.8M113.61 893.7v4.8M148.55 1132.3v-4.8M148.55 893.7v4.8M183.49 1132.3v-4.8M183.49 893.7v4.8M218.44 1132.3v-4.8M218.44 893.7v4.8M253.38 1132.3v-4.8M253.38 893.7v4.8M288.32 1132.3v-4.8M288.32 893.7v4.8M323.26 1132.3v-4.8M323.26 893.7v4.8M61.2 1064.13h8.3M358.2 1064.13h-8.3M61.2 995.96h8.3M358.2 995.96h-8.3M61.2 927.79h8.3M358.2 927.79h-8.3M61.2 1098.21h4.8M358.2 1098.21h-4.8M61.2 1030.04h4.8M358.2 1030.04h-4.8M61.2 961.87h4.8M358.2 961.87h-4.8M61.2 893.7h4.8M358.2 893.7h-4.8" stroke="#3a3a3a" stroke-width="1.3" fill="none"/>
<path d="M61.2 893.7H358.2V1132.3" stroke="#2a2a2a" stroke-width="1.3" fill="none"/>
<path d="M61.2 893.1V1132.3H358.8" stroke="#6c6c6c" stroke-width="1.7" fill="none"/>
<text transform="translate(61.2,1158.3) scale(1,1.08)" font-size="19.5" text-anchor="middle">0</text>
<text transform="translate(96.14,1158.3) scale(1,1.08)" font-size="19.5" text-anchor="middle">2</text>
<text transform="translate(131.08,1158.3) scale(1,1.08)" font-size="19.5" text-anchor="middle">4</text>
<text transform="translate(166.02,1158.3) scale(1,1.08)" font-size="19.5" text-anchor="middle">6</text>
<text transform="translate(200.96,1158.3) scale(1,1.08)" font-size="19.5" text-anchor="middle">8</text>
<text transform="translate(235.91,1158.3) scale(1,1.08)" font-size="19.5" text-anchor="middle">10</text>
<text transform="translate(270.85,1158.3) scale(1,1.08)" font-size="19.5" text-anchor="middle">12</text>
<text transform="translate(305.79,1158.3) scale(1,1.08)" font-size="19.5" text-anchor="middle">14</text>
<text transform="translate(340.73,1158.3) scale(1,1.08)" font-size="19.5" text-anchor="middle">16</text>
<text transform="translate(51.2,1138.62) scale(1,1.08)" font-size="19.5" text-anchor="end">0.2</text>
<text transform="translate(51.2,1070.45) scale(1,1.08)" font-size="19.5" text-anchor="end">0.4</text>
<text transform="translate(51.2,1002.28) scale(1,1.08)" font-size="19.5" text-anchor="end">0.6</text>
<text transform="translate(51.2,934.1) scale(1,1.08)" font-size="19.5" text-anchor="end">0.8</text>
<polyline points="78.67,1084.58 96.14,1079.47 113.61,955.4 131.08,956.08 148.55,930.51 166.02,926.08 183.49,918.24 200.96,917.22 218.44,916.88 235.91,921.99 253.38,929.15 270.85,944.49 288.32,966.3 305.79,1010.61" stroke="#0000ff" stroke-width="1.3" fill="none" stroke-linejoin="round"/>
<circle cx="78.67" cy="1084.58" r="3.8" fill="url(#gb)"/>
<circle cx="96.14" cy="1079.47" r="3.8" fill="url(#gb)"/>
<circle cx="113.61" cy="955.4" r="3.8" fill="url(#gb)"/>
<circle cx="131.08" cy="956.08" r="3.8" fill="url(#gb)"/>
<circle cx="148.55" cy="930.51" r="3.8" fill="url(#gb)"/>
<circle cx="166.02" cy="926.08" r="3.8" fill="url(#gb)"/>
<circle cx="183.49" cy="918.24" r="3.8" fill="url(#gb)"/>
<circle cx="200.96" cy="917.22" r="3.8" fill="url(#gb)"/>
<circle cx="218.44" cy="916.88" r="3.8" fill="url(#gb)"/>
<circle cx="235.91" cy="921.99" r="3.8" fill="url(#gb)"/>
<circle cx="253.38" cy="929.15" r="3.8" fill="url(#gb)"/>
<circle cx="270.85" cy="944.49" r="3.8" fill="url(#gb)"/>
<circle cx="288.32" cy="966.3" r="3.8" fill="url(#gb)"/>
<circle cx="305.79" cy="1010.61" r="3.8" fill="url(#gb)"/>
<polyline points="78.67,1081.51 96.14,1077.76 113.61,953.35 131.08,954.03 148.55,928.13 166.02,923.35 183.49,918.24 200.96,919.61 218.44,919.95 235.91,926.08 253.38,934.26 270.85,950.62 288.32,974.48 305.79,1018.79" stroke="#ff7f0e" stroke-width="1.3" fill="none" stroke-linejoin="round"/>
<circle cx="78.67" cy="1081.51" r="3.8" fill="url(#go)"/>
<circle cx="96.14" cy="1077.76" r="3.8" fill="url(#go)"/>
<circle cx="113.61" cy="953.35" r="3.8" fill="url(#go)"/>
<circle cx="131.08" cy="954.03" r="3.8" fill="url(#go)"/>
<circle cx="148.55" cy="928.13" r="3.8" fill="url(#go)"/>
<circle cx="166.02" cy="923.35" r="3.8" fill="url(#go)"/>
<circle cx="183.49" cy="918.24" r="3.8" fill="url(#go)"/>
<circle cx="200.96" cy="919.61" r="3.8" fill="url(#go)"/>
<circle cx="218.44" cy="919.95" r="3.8" fill="url(#go)"/>
<circle cx="235.91" cy="926.08" r="3.8" fill="url(#go)"/>
<circle cx="253.38" cy="934.26" r="3.8" fill="url(#go)"/>
<circle cx="270.85" cy="950.62" r="3.8" fill="url(#go)"/>
<circle cx="288.32" cy="974.48" r="3.8" fill="url(#go)"/>
<circle cx="305.79" cy="1018.79" r="3.8" fill="url(#go)"/>
<line x1="116.3" y1="1081.3" x2="151.6" y2="1081.3" stroke="#0000ff" stroke-width="1.4"/>
<circle cx="133.95" cy="1081.3" r="3.8" fill="url(#gb)"/>
<text transform="translate(155.4,1086.9) scale(1,1.08)" font-size="15.7">control</text>
<line x1="116.3" y1="1100.6" x2="151.6" y2="1100.6" stroke="#ff7f0e" stroke-width="1.4"/>
<circle cx="133.95" cy="1100.6" r="3.8" fill="url(#go)"/>
<text transform="translate(155.4,1106.2) scale(1,1.08)" font-size="15.7">GQDs</text>
<path d="M114.3 1070.5H202.4" stroke="#777" stroke-width="1.1"/>
<path d="M202.4 1070.5V1111.1" stroke="#777" stroke-width="1.1"/>
<path d="M114.3 1111.1H202.4" stroke="#777" stroke-width="1.1"/>
<path d="M114.3 1070.5V1111.1" stroke="#777" stroke-width="1.1"/>
<text transform="translate(306.3,920.5) scale(1,1.08)" font-size="16.8" text-anchor="middle">PSM-sn1</text>
<text transform="translate(14,1013) rotate(-90)" font-size="20" text-anchor="middle">S<tspan font-size="14.5" dy="5.6">CD</tspan></text>
<text transform="translate(209.4,1180) scale(1,1.08)" font-size="20.2" text-anchor="middle">Carbon atom number</text>
<text transform="translate(7.3,910.8) scale(1,1.08)" font-size="27.5" font-weight="bold">g</text>
<path d="M466.86 1132.5v-8.3M466.86 894.2v8.3M501.72 1132.5v-8.3M501.72 894.2v8.3M536.58 1132.5v-8.3M536.58 894.2v8.3M571.44 1132.5v-8.3M571.44 894.2v8.3M606.29 1132.5v-8.3M606.29 894.2v8.3M641.15 1132.5v-8.3M641.15 894.2v8.3M676.01 1132.5v-8.3M676.01 894.2v8.3M710.87 1132.5v-8.3M710.87 894.2v8.3M449.43 1132.5v-4.8M449.43 894.2v4.8M484.29 1132.5v-4.8M484.29 894.2v4.8M519.15 1132.5v-4.8M519.15 894.2v4.8M554.01 1132.5v-4.8M554.01 894.2v4.8M588.86 1132.5v-4.8M588.86 894.2v4.8M623.72 1132.5v-4.8M623.72 894.2v4.8M658.58 1132.5v-4.8M658.58 894.2v4.8M693.44 1132.5v-4.8M693.44 894.2v4.8M432 1064.41h8.3M728.3 1064.41h-8.3M432 996.33h8.3M728.3 996.33h-8.3M432 928.24h8.3M728.3 928.24h-8.3M432 1098.46h4.8M728.3 1098.46h-4.8M432 1030.37h4.8M728.3 1030.37h-4.8M432 962.29h4.8M728.3 962.29h-4.8M432 894.2h4.8M728.3 894.2h-4.8" stroke="#3a3a3a" stroke-width="1.3" fill="none"/>
<path d="M432 894.2H728.3V1132.5" stroke="#2a2a2a" stroke-width="1.3" fill="none"/>
<path d="M432 893.6V1132.5H728.9" stroke="#6c6c6c" stroke-width="1.7" fill="none"/>
<text transform="translate(432,1158.5) scale(1,1.08)" font-size="19.5" text-anchor="middle">0</text>
<text transform="translate(466.86,1158.5) scale(1,1.08)" font-size="19.5" text-anchor="middle">2</text>
<text transform="translate(501.72,1158.5) scale(1,1.08)" font-size="19.5" text-anchor="middle">4</text>
<text transform="translate(536.58,1158.5) scale(1,1.08)" font-size="19.5" text-anchor="middle">6</text>
<text transform="translate(571.44,1158.5) scale(1,1.08)" font-size="19.5" text-anchor="middle">8</text>
<text transform="translate(606.29,1158.5) scale(1,1.08)" font-size="19.5" text-anchor="middle">10</text>
<text transform="translate(641.15,1158.5) scale(1,1.08)" font-size="19.5" text-anchor="middle">12</text>
<text transform="translate(676.01,1158.5) scale(1,1.08)" font-size="19.5" text-anchor="middle">14</text>
<text transform="translate(710.87,1158.5) scale(1,1.08)" font-size="19.5" text-anchor="middle">16</text>
<text transform="translate(422,1138.82) scale(1,1.08)" font-size="19.5" text-anchor="end">0.2</text>
<text transform="translate(422,1070.73) scale(1,1.08)" font-size="19.5" text-anchor="end">0.4</text>
<text transform="translate(422,1002.65) scale(1,1.08)" font-size="19.5" text-anchor="end">0.6</text>
<text transform="translate(422,934.56) scale(1,1.08)" font-size="19.5" text-anchor="end">0.8</text>
<polyline points="449.43,1095.05 466.86,1030.71 484.29,961.26 501.72,939.48 519.15,925.18 536.58,917.01 554.01,915.65 571.44,916.33 588.86,920.75 606.29,926.88 623.72,938.8 641.15,954.12 658.58,981.69 676.01,1023.9" stroke="#0000ff" stroke-width="1.3" fill="none" stroke-linejoin="round"/>
<circle cx="449.43" cy="1095.05" r="3.8" fill="url(#gb)"/>
<circle cx="466.86" cy="1030.71" r="3.8" fill="url(#gb)"/>
<circle cx="484.29" cy="961.26" r="3.8" fill="url(#gb)"/>
<circle cx="501.72" cy="939.48" r="3.8" fill="url(#gb)"/>
<circle cx="519.15" cy="925.18" r="3.8" fill="url(#gb)"/>
<circle cx="536.58" cy="917.01" r="3.8" fill="url(#gb)"/>
<circle cx="554.01" cy="915.65" r="3.8" fill="url(#gb)"/>
<circle cx="571.44" cy="916.33" r="3.8" fill="url(#gb)"/>
<circle cx="588.86" cy="920.75" r="3.8" fill="url(#gb)"/>
<circle cx="606.29" cy="926.88" r="3.8" fill="url(#gb)"/>
<circle cx="623.72" cy="938.8" r="3.8" fill="url(#gb)"/>
<circle cx="641.15" cy="954.12" r="3.8" fill="url(#gb)"/>
<circle cx="658.58" cy="981.69" r="3.8" fill="url(#gb)"/>
<circle cx="676.01" cy="1023.9" r="3.8" fill="url(#gb)"/>
<polyline points="449.43,1104.58 466.86,1040.58 484.29,967.39 501.72,944.58 519.15,929.26 536.58,921.09 554.01,919.73 571.44,920.41 588.86,924.5 606.29,932.33 623.72,943.56 641.15,961.26 658.58,988.16 676.01,1029.01" stroke="#ff7f0e" stroke-width="1.3" fill="none" stroke-linejoin="round"/>
<circle cx="449.43" cy="1104.58" r="3.8" fill="url(#go)"/>
<circle cx="466.86" cy="1040.58" r="3.8" fill="url(#go)"/>
<circle cx="484.29" cy="967.39" r="3.8" fill="url(#go)"/>
<circle cx="501.72" cy="944.58" r="3.8" fill="url(#go)"/>
<circle cx="519.15" cy="929.26" r="3.8" fill="url(#go)"/>
<circle cx="536.58" cy="921.09" r="3.8" fill="url(#go)"/>
<circle cx="554.01" cy="919.73" r="3.8" fill="url(#go)"/>
<circle cx="571.44" cy="920.41" r="3.8" fill="url(#go)"/>
<circle cx="588.86" cy="924.5" r="3.8" fill="url(#go)"/>
<circle cx="606.29" cy="932.33" r="3.8" fill="url(#go)"/>
<circle cx="623.72" cy="943.56" r="3.8" fill="url(#go)"/>
<circle cx="641.15" cy="961.26" r="3.8" fill="url(#go)"/>
<circle cx="658.58" cy="988.16" r="3.8" fill="url(#go)"/>
<circle cx="676.01" cy="1029.01" r="3.8" fill="url(#go)"/>
<line x1="486.3" y1="1081.8" x2="522.3" y2="1081.8" stroke="#0000ff" stroke-width="1.4"/>
<circle cx="504.3" cy="1081.8" r="3.8" fill="url(#gb)"/>
<text transform="translate(526.1,1087.4) scale(1,1.08)" font-size="15.7">control</text>
<line x1="486.3" y1="1101.3" x2="522.3" y2="1101.3" stroke="#ff7f0e" stroke-width="1.4"/>
<circle cx="504.3" cy="1101.3" r="3.8" fill="url(#go)"/>
<text transform="translate(526.1,1106.9) scale(1,1.08)" font-size="15.7">GQDs</text>
<path d="M484.3 1071.3H572.7" stroke="#777" stroke-width="1.1"/>
<path d="M572.7 1071.3V1112.3" stroke="#777" stroke-width="1.1"/>
<path d="M484.3 1112.3H572.7" stroke="#777" stroke-width="1.1"/>
<path d="M484.3 1071.3V1112.3" stroke="#777" stroke-width="1.1"/>
<text transform="translate(675,919.5) scale(1,1.08)" font-size="16.8" text-anchor="middle">PSM-sn2</text>
<text transform="translate(384.4,1014) rotate(-90)" font-size="20" text-anchor="middle">S<tspan font-size="14.5" dy="5.6">CD</tspan></text>
<text transform="translate(580.5,1180.5) scale(1,1.08)" font-size="20.2" text-anchor="middle">Carbon atom number</text>
<text transform="translate(373.5,915.5) scale(1,1.08)" font-size="27.5" font-weight="bold">h</text>
</svg></body></html>
